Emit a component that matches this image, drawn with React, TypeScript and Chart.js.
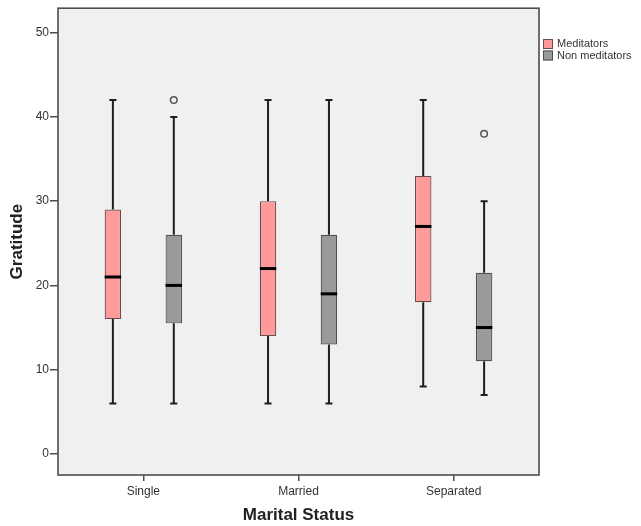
import React, { useEffect, useRef } from "react";
import { Chart, registerables } from "chart.js";

Chart.register(...registerables);

const categories = ["Single", "Married", "Separated"];
const seriesNames = ["Meditators", "Non meditators"];

const medMin = [6, 6, 8];
const medQ1 = [16, 14, 18];
const medMedian = [21, 22, 27];
const medQ3 = [29, 30, 33];
const medMax = [42, 42, 42];
const medOutliers: number[][] = [[], [], []];

const nonMin = [6, 6, 7];
const nonQ1 = [15.5, 13, 11];
const nonMedian = [20, 19, 15];
const nonQ3 = [26, 26, 21.5];
const nonMax = [40, 42, 30];
const nonOutliers: number[][] = [[42], [], [38]];

const yTicks = [0, 10, 20, 30, 40, 50];

const fills = ["#ff9a9a", "#9a9a9a"];
const borders = ["#6a4c4c", "#505050"];

const stats = [
  { min: medMin, q1: medQ1, med: medMedian, q3: medQ3, max: medMax, out: medOutliers },
  { min: nonMin, q1: nonQ1, med: nonMedian, q3: nonQ3, max: nonMax, out: nonOutliers },
];

const boxPlugin = {
  id: "boxExtras",
  beforeDraw(chart: any) {
    const { ctx, chartArea: a } = chart;
    ctx.save();
    ctx.fillStyle = "#ffffff";
    ctx.fillRect(0, 0, chart.width, chart.height);
    ctx.fillStyle = "#f0f0f0";
    ctx.fillRect(a.left, a.top, a.right - a.left, a.bottom - a.top);
    ctx.restore();
  },
  afterDatasetsDraw(chart: any) {
    const { ctx } = chart;
    const ys = chart.scales.y;
    ctx.save();
    stats.forEach((s, di) => {
      const meta = chart.getDatasetMeta(di);
      meta.data.forEach((bar: any, i: number) => {
        const x = bar.x;
        const w = bar.width;
        const pMin = ys.getPixelForValue(s.min[i]);
        const pQ1 = ys.getPixelForValue(s.q1[i]);
        const pQ3 = ys.getPixelForValue(s.q3[i]);
        const pMax = ys.getPixelForValue(s.max[i]);
        const pMed = ys.getPixelForValue(s.med[i]);
        ctx.strokeStyle = "#1e1e1e";
        ctx.lineWidth = 2;
        ctx.beginPath();
        ctx.moveTo(x, pQ3);
        ctx.lineTo(x, pMax);
        ctx.moveTo(x, pQ1);
        ctx.lineTo(x, pMin);
        ctx.moveTo(x - 3.5, pMax);
        ctx.lineTo(x + 3.5, pMax);
        ctx.moveTo(x - 3.5, pMin);
        ctx.lineTo(x + 3.5, pMin);
        ctx.stroke();
        ctx.strokeStyle = "#000000";
        ctx.lineWidth = 3;
        ctx.beginPath();
        ctx.moveTo(x - w / 2, pMed);
        ctx.lineTo(x + w / 2, pMed);
        ctx.stroke();
        s.out[i].forEach((v) => {
          const py = ys.getPixelForValue(v);
          ctx.strokeStyle = "#555555";
          ctx.lineWidth = 1.5;
          ctx.beginPath();
          ctx.arc(x, py, 3.3, 0, Math.PI * 2);
          ctx.stroke();
        });
      });
    });
    ctx.restore();
  },
  afterDraw(chart: any) {
    const { ctx, chartArea: a } = chart;
    ctx.save();
    ctx.strokeStyle = "#4d4d4d";
    ctx.lineWidth = 1.6;
    ctx.strokeRect(a.left, a.top, a.right - a.left, a.bottom - a.top);
    // legend
    const lx = a.right + 4;
    const rows = [39, 50.5];
    ctx.font = "11px 'Liberation Sans', Arial, sans-serif";
    ctx.textBaseline = "middle";
    ctx.textAlign = "left";
    seriesNames.forEach((name, k) => {
      ctx.fillStyle = fills[k];
      ctx.fillRect(lx, rows[k], 10, 10);
      ctx.strokeStyle = borders[k];
      ctx.lineWidth = 1;
      ctx.strokeRect(lx + 0.5, rows[k] + 0.5, 9, 9);
      ctx.fillStyle = "#333333";
      ctx.fillText(name, lx + 14, rows[k] + 5);
    });
    ctx.restore();
  },
};

export default function App() {
  const ref = useRef<HTMLCanvasElement>(null);
  useEffect(() => {
    if (!ref.current) return;
    const chart = new Chart(ref.current, {
      type: "bar",
      data: {
        datasets: stats.map((s, k) => ({
          label: seriesNames[k],
          data: categories.map((_, i) => ({ x: i, y: [s.q1[i], s.q3[i]] })),
          backgroundColor: fills[k],
          borderColor: borders[k],
          borderWidth: 1.2,
          borderSkipped: false,
          categoryPercentage: 0.785,
          barPercentage: 0.27,
        })),
      } as any,
      options: {
        animation: false,
        responsive: false,
        layout: { padding: { top: 7, right: 102, left: 0, bottom: 0 } },
        plugins: { legend: { display: false }, tooltip: { enabled: false } },
        scales: {
          x: {
            type: "linear",
            min: -0.55,
            max: 2.55,
            offset: false,
            afterBuildTicks: (axis: any) => {
              axis.ticks = categories.map((_, i) => ({ value: i }));
            },
            afterFit: (axis: any) => {
              axis.height = 51;
            },
            ticks: {
              callback: (v: any) => categories[v as number] ?? "",
              font: { size: 12, family: "'Liberation Sans', Arial, sans-serif" },
              color: "#333333",
              padding: 3,
              maxRotation: 0,
            },
            grid: { offset: false, drawOnChartArea: false, drawTicks: true, tickLength: 6, color: "#4d4d4d", lineWidth: 1.5 },
            border: { display: false },
            title: {
              display: true,
              text: "Marital Status",
              font: { size: 17, weight: "bold", family: "'Liberation Sans', Arial, sans-serif" },
              color: "#222222",
              padding: { top: 0, bottom: 0 },
            },
          },
          y: {
            type: "linear",
            min: -2.5,
            max: 52.9,
            afterBuildTicks: (axis: any) => {
              axis.ticks = yTicks.map((v) => ({ value: v }));
            },
            afterFit: (axis: any) => {
              axis.width = 58;
            },
            ticks: {
              font: { size: 12, family: "'Liberation Sans', Arial, sans-serif" },
              color: "#333333",
              padding: 1,
            },
            grid: { drawOnChartArea: false, drawTicks: true, tickLength: 8, color: "#4d4d4d", lineWidth: 1.5 },
            border: { display: false },
            title: {
              display: true,
              text: "Gratitude",
              font: { size: 17, weight: "bold", family: "'Liberation Sans', Arial, sans-serif" },
              color: "#222222",
              padding: { top: 7, bottom: 0 },
            },
          },
        },
      } as any,
      plugins: [boxPlugin],
    });
    return () => chart.destroy();
  }, []);
  return (
    <div style={{ position: "fixed", left: 0, top: 0, width: 641, height: 526, background: "#fff" }}>
      <canvas ref={ref} width={641} height={526} style={{ display: "block" }} />
    </div>
  );
}
